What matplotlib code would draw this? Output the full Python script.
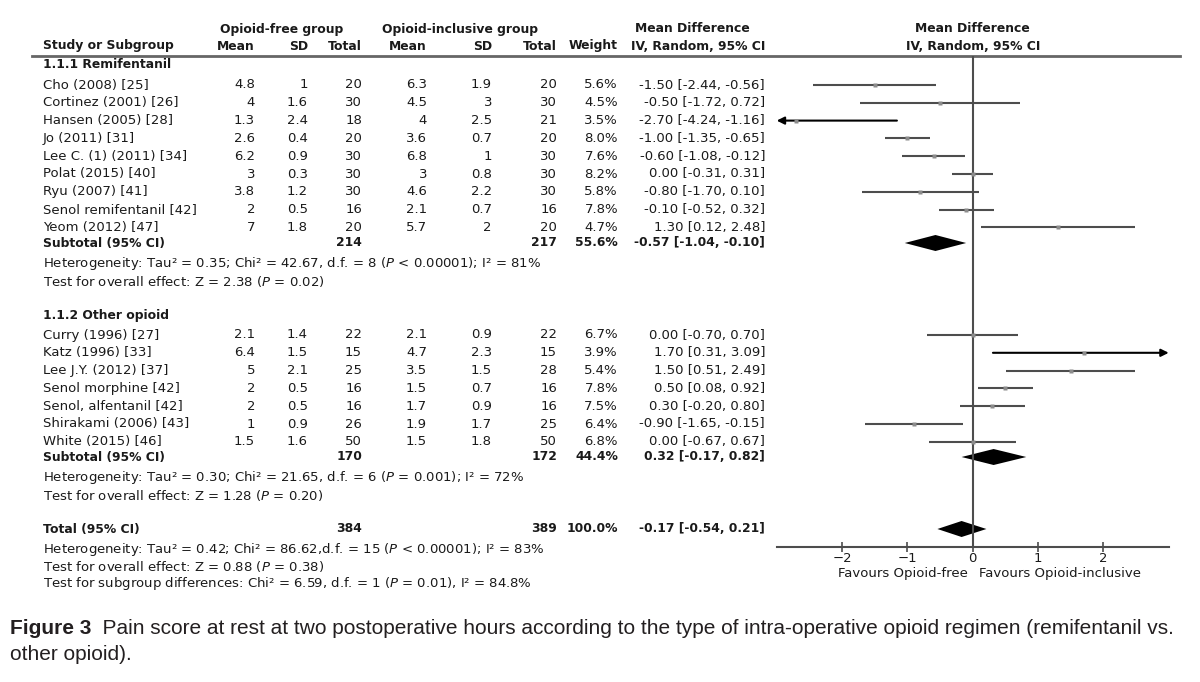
import matplotlib
matplotlib.use("Agg")
import matplotlib.pyplot as plt
from matplotlib.lines import Line2D

# ---- data: 1.1.1 Remifentanil
studies1 = ["Cho (2008) [25]", "Cortinez (2001) [26]", "Hansen (2005) [28]", "Jo (2011) [31]",
            "Lee C. (1) (2011) [34]", "Polat (2015) [40]", "Ryu (2007) [41]",
            "Senol remifentanil [42]", "Yeom (2012) [47]"]
free_mean1 = [4.8, 4, 1.3, 2.6, 6.2, 3, 3.8, 2, 7]
free_sd1 = [1, 1.6, 2.4, 0.4, 0.9, 0.3, 1.2, 0.5, 1.8]
free_n1 = [20, 30, 18, 20, 30, 30, 30, 16, 20]
incl_mean1 = [6.3, 4.5, 4, 3.6, 6.8, 3, 4.6, 2.1, 5.7]
incl_sd1 = [1.9, 3, 2.5, 0.7, 1, 0.8, 2.2, 0.7, 2]
incl_n1 = [20, 30, 21, 20, 30, 30, 30, 16, 20]
weight1 = [5.6, 4.5, 3.5, 8.0, 7.6, 8.2, 5.8, 7.8, 4.7]
md1 = [-1.50, -0.50, -2.70, -1.00, -0.60, 0.00, -0.80, -0.10, 1.30]
lo1 = [-2.44, -1.72, -4.24, -1.35, -1.08, -0.31, -1.70, -0.52, 0.12]
hi1 = [-0.56, 0.72, -1.16, -0.65, -0.12, 0.31, 0.10, 0.32, 2.48]

# ---- data: 1.1.2 Other opioid
studies2 = ["Curry (1996) [27]", "Katz (1996) [33]", "Lee J.Y. (2012) [37]", "Senol morphine [42]",
            "Senol, alfentanil [42]", "Shirakami (2006) [43]", "White (2015) [46]"]
free_mean2 = [2.1, 6.4, 5, 2, 2, 1, 1.5]
free_sd2 = [1.4, 1.5, 2.1, 0.5, 0.5, 0.9, 1.6]
free_n2 = [22, 15, 25, 16, 16, 26, 50]
incl_mean2 = [2.1, 4.7, 3.5, 1.5, 1.7, 1.9, 1.5]
incl_sd2 = [0.9, 2.3, 1.5, 0.7, 0.9, 1.7, 1.8]
incl_n2 = [22, 15, 28, 16, 16, 25, 50]
weight2 = [6.7, 3.9, 5.4, 7.8, 7.5, 6.4, 6.8]
md2 = [0.00, 1.70, 1.50, 0.50, 0.30, -0.90, 0.00]
lo2 = [-0.70, 0.31, 0.51, 0.08, -0.20, -1.65, -0.67]
hi2 = [0.70, 3.09, 2.49, 0.92, 0.80, -0.15, 0.67]

# ---- pooled estimates
pooled_labels = ["Subtotal (95% CI)", "Subtotal (95% CI)", "Total (95% CI)"]
pooled_free_n = [214, 170, 384]
pooled_incl_n = [217, 172, 389]
pooled_weight = [55.6, 44.4, 100.0]
pooled_md = [-0.57, 0.32, -0.17]
pooled_lo = [-1.04, -0.17, -0.54]
pooled_hi = [-0.10, 0.82, 0.21]

het1 = ["Heterogeneity: Tau² = 0.35; Chi² = 42.67, d.f. = 8 ($\\it{P}$ < 0.00001); I² = 81%",
        "Test for overall effect: Z = 2.38 ($\\it{P}$ = 0.02)"]
het2 = ["Heterogeneity: Tau² = 0.30; Chi² = 21.65, d.f. = 6 ($\\it{P}$ = 0.001); I² = 72%",
        "Test for overall effect: Z = 1.28 ($\\it{P}$ = 0.20)"]
het_tot = ["Heterogeneity: Tau² = 0.42; Chi² = 86.62,d.f. = 15 ($\\it{P}$ < 0.00001); I² = 83%",
           "Test for overall effect: Z = 0.88 ($\\it{P}$ = 0.38)",
           "Test for subgroup differences: Chi² = 6.59, d.f. = 1 ($\\it{P}$ = 0.01), I² = 84.8%"]

ticks = [-2, -1, 0, 1, 2]

W, H = 1200, 682
FS = 9.5
FSB = 8.9
TXT = "#1a1a1a"
LINE = "#4d4d4d"

fig = plt.figure(figsize=(12, 6.82), dpi=100)
fig.patch.set_facecolor("white")

# text layer in pixel coordinates
tx = fig.add_axes([0, 0, 1, 1])
tx.set_xlim(0, W)
tx.set_ylim(H, 0)
tx.axis("off")

# forest panel: x in mean difference units, y shares pixel rows
x0, x1 = 776.7, 1168.7
ax = fig.add_axes([x0 / W, 0, (x1 - x0) / W, 1])
ax.set_xlim(-3, 3)
ax.set_ylim(H, 0)
ax.patch.set_alpha(0)
for s in ["top", "left", "right"]:
    ax.spines[s].set_visible(False)
ax.set_yticks([])

# column anchors (right edges)
X_NAME = 43
X_FM, X_FSD, X_FN = 255, 308, 362
X_IM, X_ISD, X_IN = 427, 492, 557
X_W, X_CI = 618, 765


def t(x, y, s, ha="right", bold=False, **kw):
    tx.text(x, y, s, ha=ha, va="center", fontsize=FSB if bold else FS, color=TXT,
            fontweight="bold" if bold else "normal", **kw)


def ci_text(m, l, h):
    return f"{m:.2f} [{l:.2f}, {h:.2f}]"


# headers
t(282, 29, "Opioid-free group", ha="center", bold=True)
t(460, 29, "Opioid-inclusive group", ha="center", bold=True)
t(692, 29, "Mean Difference", ha="center", bold=True)
t(972.7, 29, "Mean Difference", ha="center", bold=True)
t(X_NAME, 46, "Study or Subgroup", ha="left", bold=True)
for x, s in [(X_FM, "Mean"), (X_FSD, "SD"), (X_FN, "Total"), (X_IM, "Mean"),
             (X_ISD, "SD"), (X_IN, "Total"), (X_W, "Weight"), (X_CI, "IV, Random, 95% CI")]:
    t(x, 46, s, bold=True)
t(972.7, 46, "IV, Random, 95% CI", ha="center", bold=True)
tx.add_line(Line2D([32, 1180], [56, 56], color="#666666", lw=2))

STEP = 17.8


def study_block(y0, names, fm, fsd, fn, im, isd, inn, w, md, lo, hi):
    for i, name in enumerate(names):
        y = y0 + i * STEP
        t(X_NAME, y, name, ha="left")
        t(X_FM, y, f"{fm[i]:g}")
        t(X_FSD, y, f"{fsd[i]:g}")
        t(X_FN, y, f"{fn[i]}")
        t(X_IM, y, f"{im[i]:g}")
        t(X_ISD, y, f"{isd[i]:g}")
        t(X_IN, y, f"{inn[i]}")
        t(X_W, y, f"{w[i]:.1f}%")
        t(X_CI, y, ci_text(md[i], lo[i], hi[i]))
        a, b = max(lo[i], -3), min(hi[i], 3)
        if lo[i] < -3:
            ax.annotate("", xy=(-3, y), xytext=(b, y),
                        arrowprops=dict(arrowstyle="-|>", color="black", lw=1.5,
                                        mutation_scale=11, shrinkA=0, shrinkB=0))
        elif hi[i] > 3:
            ax.annotate("", xy=(3, y), xytext=(a, y),
                        arrowprops=dict(arrowstyle="-|>", color="black", lw=1.5,
                                        mutation_scale=11, shrinkA=0, shrinkB=0))
        else:
            ax.plot([a, b], [y, y], color=LINE, lw=1.5, solid_capstyle="butt")
        ax.plot(md[i], y, "s", ms=2.5, color="#8c8c8c", mec="none", zorder=3)


def pooled_row(y, k):
    t(X_NAME, y, pooled_labels[k], ha="left", bold=True)
    t(X_FN, y, f"{pooled_free_n[k]}", bold=True)
    t(X_IN, y, f"{pooled_incl_n[k]}", bold=True)
    t(X_W, y, f"{pooled_weight[k]:.1f}%", bold=True)
    t(X_CI, y, ci_text(pooled_md[k], pooled_lo[k], pooled_hi[k]), bold=True)
    hh = 8
    ax.fill([pooled_lo[k], pooled_md[k], pooled_hi[k], pooled_md[k]],
            [y, y - hh, y, y + hh], color="black", lw=0)


def notes(y0, lines):
    for i, s in enumerate(lines):
        t(X_NAME, y0 + i * 17.5, s, ha="left")


t(X_NAME, 65, "1.1.1 Remifentanil", ha="left", bold=True)
study_block(85, studies1, free_mean1, free_sd1, free_n1, incl_mean1, incl_sd1, incl_n1,
            weight1, md1, lo1, hi1)
pooled_row(243, 0)
notes(264, het1)

t(X_NAME, 315, "1.1.2 Other opioid", ha="left", bold=True)
study_block(335, studies2, free_mean2, free_sd2, free_n2, incl_mean2, incl_sd2, incl_n2,
            weight2, md2, lo2, hi2)
pooled_row(457, 1)
notes(478, het2)

pooled_row(529, 2)
notes(549, het_tot)

# zero line and axis
ax.vlines(0, 56, 547, color=LINE, lw=1.5)
ax.spines["bottom"].set_position(("data", 547))
ax.spines["bottom"].set_color(LINE)
ax.spines["bottom"].set_linewidth(1.5)
ax.set_xticks(ticks)
ax.set_xticklabels([f"{v}".replace("-", "\u2212") for v in ticks])
ax.tick_params(axis="x", direction="inout", length=7, width=1.2, color=LINE,
               labelsize=FS, labelcolor=TXT, pad=0)
t(968, 573, "Favours Opioid-free", ha="right")
t(979, 573, "Favours Opioid-inclusive", ha="left")

# caption
cap_font = ["Liberation Sans Narrow", "Liberation Sans", "DejaVu Sans"]
c1 = tx.text(10, 634, "Figure 3", ha="left", va="baseline", fontsize=15,
             fontweight="bold", color="#231f20", family=cap_font)
tx.annotate("  Pain score at rest at two postoperative hours according to the type of "
            "intra-operative opioid regimen (remifentanil vs.",
            xy=(1, 0), xycoords=c1, ha="left", va="bottom", fontsize=15,
            color="#231f20", family=cap_font)
tx.text(10, 660, "other opioid).", ha="left", va="baseline", fontsize=15,
        color="#231f20", family=cap_font)

fig.savefig("out.png", dpi=100, facecolor="white")
